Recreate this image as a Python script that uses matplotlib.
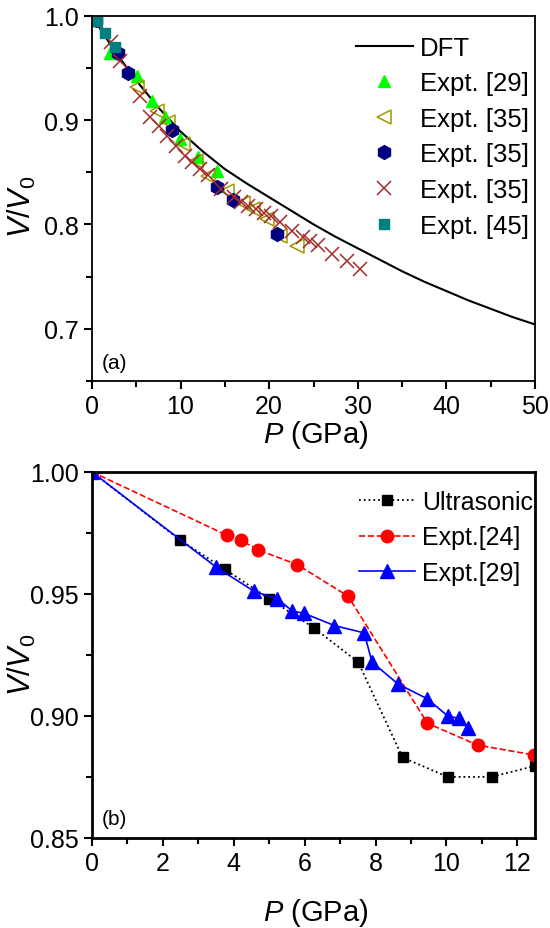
import numpy as np
import matplotlib
matplotlib.use('Agg')
import matplotlib.pyplot as plt
from matplotlib.ticker import MultipleLocator, FormatStrFormatter

plt.rcParams['font.family'] = ['Liberation Sans', 'DejaVu Sans']
plt.rcParams['mathtext.fontset'] = 'custom'
plt.rcParams['mathtext.rm'] = 'Liberation Sans'
plt.rcParams['mathtext.it'] = 'Liberation Sans:italic'

# ---- panel (a) data ----
dft_p = [0, 2.5, 5, 7.5, 10, 12.5, 15, 17.5, 20, 22.5, 25, 27.5, 30, 32.5, 35, 37.5, 40, 42.5, 45, 47.5, 50]
dft_v = [1.000, 0.967, 0.938, 0.912, 0.889, 0.870, 0.853, 0.839, 0.826, 0.813, 0.800, 0.788, 0.777,
         0.766, 0.755, 0.745, 0.736, 0.727, 0.719, 0.711, 0.704]

e29_p = [2.0, 2.6, 5.1, 6.8, 8.2, 9.9, 12.0, 14.1]
e29_v = [0.964, 0.966, 0.942, 0.918, 0.903, 0.882, 0.865, 0.851]

e35a_p = [5.1, 7.4, 8.6, 10.3, 11.8, 13.1, 15.2, 17.1, 18.2, 19.7, 21.2, 23.1]
e35a_v = [0.932, 0.909, 0.898, 0.877, 0.861, 0.846, 0.832, 0.820, 0.815, 0.805, 0.789, 0.779]

e35b_p = [0.5, 2.9, 4.1, 9.0, 14.1, 15.9, 20.9]
e35b_v = [0.996, 0.964, 0.945, 0.890, 0.836, 0.823, 0.791]

e35c_p = [0.5, 2.2, 3.2, 5.4, 6.6, 7.6, 8.5, 9.5, 10.5, 11.3, 12.2, 13.1, 14.6, 16.0, 16.8, 17.6,
          18.5, 19.4, 20.2, 21.2, 22.6, 23.8, 24.6, 25.5, 27.1, 28.8, 30.2]
e35c_v = [0.995, 0.975, 0.957, 0.923, 0.903, 0.894, 0.885, 0.875, 0.866, 0.860, 0.853, 0.847, 0.834,
          0.826, 0.821, 0.818, 0.815, 0.811, 0.808, 0.802, 0.794, 0.788, 0.784, 0.780, 0.772, 0.765, 0.757]

e45_p = [0.55, 1.5, 2.6]
e45_v = [0.995, 0.983, 0.970]

# ---- panel (b) data ----
us_p = [0, 2.49, 3.76, 5.0, 6.27, 7.51, 8.76, 10.03, 11.27, 12.5]
us_v = [1.000, 0.972, 0.960, 0.948, 0.936, 0.922, 0.883, 0.875, 0.875, 0.8795]

e24_p = [0, 3.81, 4.2, 4.69, 5.79, 7.23, 9.46, 10.88, 12.46]
e24_v = [1.000, 0.974, 0.972, 0.968, 0.962, 0.949, 0.897, 0.888, 0.884]

b29_p = [0, 3.5, 4.58, 5.23, 5.65, 5.99, 6.84, 7.68, 7.9, 8.64, 9.46, 10.03, 10.34, 10.6]
b29_v = [1.000, 0.961, 0.951, 0.948, 0.943, 0.942, 0.937, 0.934, 0.922, 0.913, 0.907, 0.900, 0.899, 0.895]

fig = plt.figure(figsize=(5.5, 9.29), dpi=100)
ax1 = fig.add_axes([0.167, 0.589, 0.806, 0.393])
ax2 = fig.add_axes([0.167, 0.097, 0.806, 0.394])

# panel (a)
ax1.plot(dft_p, dft_v, '-', color='black', lw=1.5, label='DFT')
ax1.plot(e29_p, e29_v, '^', color='#00ff00', ms=9, mec='#00ff00', ls='none', label='Expt. [29]')
ax1.plot(e35a_p, e35a_v, '<', mfc='none', mec='#9a9a00', mew=1.1, ms=9.5, ls='none', label='Expt. [35]')
ax1.plot(e35b_p, e35b_v, 'h', color='#000080', ms=10, ls='none', label='Expt. [35]')
ax1.plot(e35c_p, e35c_v, 'x', color='#a52a2a', mew=1.1, ms=10, ls='none', label='Expt. [35]')
ax1.plot(e45_p, e45_v, 's', color='#008080', ms=7, ls='none', label='Expt. [45]')

ax1.set_xlim(0, 50)
ax1.set_ylim(0.65, 1.0)
ax1.xaxis.set_major_locator(MultipleLocator(10))
ax1.xaxis.set_minor_locator(MultipleLocator(5))
ax1.yaxis.set_major_locator(MultipleLocator(0.1))
ax1.yaxis.set_minor_locator(MultipleLocator(0.05))
ax1.yaxis.set_major_formatter(FormatStrFormatter('%.1f'))
ax1.text(0.023, 0.05, '(a)', transform=ax1.transAxes, fontsize=15, va='center', ha='left')
ax1.legend(loc='upper right', frameon=False, fontsize=18.5, handlelength=2.2, handletextpad=0.27,
           labelspacing=0.45, borderaxespad=0.0, borderpad=0.0, bbox_to_anchor=(0.985, 0.945))
for s in ax1.spines.values():
    s.set_linewidth(1.3)

# panel (b)
ax2.plot(us_p, us_v, ':', color='black', marker='s', ms=7, lw=1.3, label='Ultrasonic')
ax2.plot(e24_p, e24_v, '--', color='#ff0000', marker='o', ms=9, lw=1.2, label='Expt.[24]')
ax2.plot(b29_p, b29_v, '-', color='#0000ff', marker='^', ms=10, lw=1.2, label='Expt.[29]')

ax2.set_xlim(0, 12.5)
ax2.set_ylim(0.85, 1.0)
ax2.xaxis.set_major_locator(MultipleLocator(2))
ax2.xaxis.set_minor_locator(MultipleLocator(1))
ax2.yaxis.set_major_locator(MultipleLocator(0.05))
ax2.yaxis.set_minor_locator(MultipleLocator(0.025))
ax2.yaxis.set_major_formatter(FormatStrFormatter('%.2f'))
ax2.text(0.023, 0.052, '(b)', transform=ax2.transAxes, fontsize=15, va='center', ha='left')
ax2.legend(loc='upper right', frameon=False, fontsize=18, handlelength=2.24, handletextpad=0.28,
           labelspacing=0.45, borderaxespad=0.0, borderpad=0.0, bbox_to_anchor=(0.995, 0.95))
for s in ax2.spines.values():
    s.set_linewidth(2.0)

for ax in (ax1, ax2):
    ax.tick_params(which='both', direction='out', top=False, right=False, labelsize=18, width=1.5)
    ax.tick_params(which='major', length=6)
    ax.tick_params(which='minor', length=4)
    ax.set_xlabel(r'$P$ (GPa)', fontsize=21)
    ax.set_ylabel(r'$V/V_\mathrm{0}$', fontsize=22)

ax1.xaxis.set_label_coords(0.506, -0.102)
ax1.yaxis.set_label_coords(-0.158, 0.48)
ax2.xaxis.set_label_coords(0.506, -0.158)
ax2.yaxis.set_label_coords(-0.158, 0.475)
ax1.yaxis.label.set_va('center')
ax2.yaxis.label.set_va('center')

fig.savefig('out.png', dpi=100)
